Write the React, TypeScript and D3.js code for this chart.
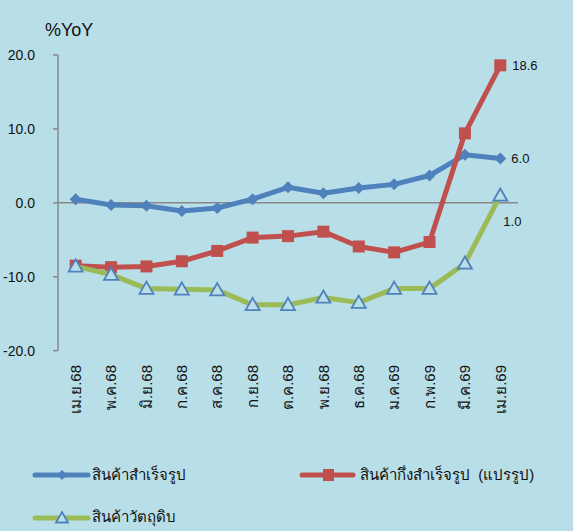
import React from "react";
import * as d3 from "d3";

const categories = ["เม.ย.68","พ.ค.68","มิ.ย.68","ก.ค.68","ส.ค.68","ก.ย.68","ต.ค.68","พ.ย.68","ธ.ค.68","ม.ค.69","ก.พ.69","มี.ค.69","เม.ย.69"];
const finished = [0.5,-0.3,-0.4,-1.1,-0.7,0.5,2.1,1.3,2.0,2.5,3.7,6.5,6.0];
const semiFinished = [-8.5,-8.7,-8.6,-7.9,-6.5,-4.7,-4.5,-3.9,-5.9,-6.7,-5.3,9.4,18.6];
const rawMaterials = [-8.6,-9.7,-11.6,-11.7,-11.8,-13.8,-13.8,-12.8,-13.5,-11.6,-11.6,-8.2,1.0];
const yTicks = [20, 10, 0, -10, -20];
const seriesNames = ["สินค้าสำเร็จรูป", "สินค้ากึ่งสำเร็จรูป\u00A0\u00A0(แปรรูป)", "สินค้าวัตถุดิบ"];

const BLUE = "#4F81BD";
const RED = "#C0504D";
const GREEN = "#9BBB59";
const BG = "#B8DEE8";
const FONT = "'Liberation Sans', 'Noto Sans', sans-serif";

export default function App() {
  const W = 573, H = 531;
  const x = d3.scaleBand<string>().domain(categories).range([58, 518]);
  const cx = (i: number) => (x(categories[i]) as number) + x.bandwidth() / 2;
  const y = d3.scaleLinear().domain([-20, 20]).range([350.7, 55]);
  const line = d3.line<number>().x((_, i) => cx(i)).y((d) => y(d));

  const diamond = (px: number, py: number, s = 6) => `M${px},${py - s}L${px + s},${py}L${px},${py + s}L${px - s},${py}Z`;
  const tri = (px: number, py: number, s = 7) => `M${px},${py - s}L${px + s},${py + s * 0.75}L${px - s},${py + s * 0.75}Z`;

  const last = categories.length - 1;

  return (
    <svg width={W} height={H} style={{ position: "absolute", left: 0, top: 0, background: BG }} fontFamily={FONT} fontWeight={400}>
      <rect x={0} y={0} width={W} height={H} fill={BG} />
      <text x={45} y={36} fontSize={18} fill="#111">%YoY</text>
      {/* y axis */}
      <line x1={58} x2={58} y1={y(20)} y2={y(-20)} stroke="#888" strokeWidth={1.5} />
      {yTicks.map((t) => (
        <g key={t}>
          <line x1={53} x2={58} y1={y(t)} y2={y(t)} stroke="#888" strokeWidth={1.5} />
          <text x={35} y={y(t)} dy="0.35em" textAnchor="end" fontSize={14} fill="#111">{t.toFixed(1)}</text>
        </g>
      ))}
      <line x1={58} x2={518} y1={y(0)} y2={y(0)} stroke="#888" strokeWidth={1.5} />
      {/* x labels */}
      {categories.map((c, i) => (
        <text key={c} transform={`translate(${cx(i)},365) rotate(-90)`} textAnchor="end" dy="0.35em" fontSize={15} fill="#111">{c}</text>
      ))}
      {/* series */}
      <path d={line(finished) as string} fill="none" stroke={BLUE} strokeWidth={5} strokeLinejoin="round" />
      {finished.map((v, i) => <path key={i} d={diamond(cx(i), y(v))} fill={BLUE} />)}
      <path d={line(semiFinished) as string} fill="none" stroke={RED} strokeWidth={5} strokeLinejoin="round" />
      {semiFinished.map((v, i) => <rect key={i} x={cx(i) - 6} y={y(v) - 6} width={12} height={12} fill={RED} />)}
      <path d={line(rawMaterials) as string} fill="none" stroke={GREEN} strokeWidth={5} strokeLinejoin="round" />
      {rawMaterials.map((v, i) => <path key={i} d={tri(cx(i), y(v))} fill={BG} stroke={BLUE} strokeWidth={1.8} />)}
      {/* data labels */}
      <text x={cx(last) + 12} y={y(semiFinished[last])} dy="0.35em" fontSize={13} fill="#111">{semiFinished[last].toFixed(1)}</text>
      <text x={cx(last) + 11} y={y(finished[last])} dy="0.35em" fontSize={13} fill="#111">{finished[last].toFixed(1)}</text>
      <text x={cx(last) + 3} y={y(rawMaterials[last]) + 26} dy="0.35em" fontSize={13} fill="#111">{rawMaterials[last].toFixed(1)}</text>
      {/* legend */}
      <line x1={35} x2={88} y1={475} y2={475} stroke={BLUE} strokeWidth={5} strokeLinecap="round" />
      <path d={diamond(62, 475, 5)} fill={BLUE} />
      <text x={92} y={475} dy="0.35em" fontSize={15} fill="#111">{seriesNames[0]}</text>
      <line x1={302} x2={353} y1={475} y2={475} stroke={RED} strokeWidth={5} strokeLinecap="round" />
      <rect x={323} y={469} width={11} height={12} fill={RED} />
      <text x={360} y={475} dy="0.35em" fontSize={15} fill="#111">{seriesNames[1]}</text>
      <line x1={35} x2={88} y1={518} y2={518} stroke={GREEN} strokeWidth={5} strokeLinecap="round" />
      <path d={tri(62, 518, 6)} fill={BG} stroke={BLUE} strokeWidth={1.8} />
      <text x={92} y={517} dy="0.35em" fontSize={15} fill="#111">{seriesNames[2]}</text>
    </svg>
  );
}
